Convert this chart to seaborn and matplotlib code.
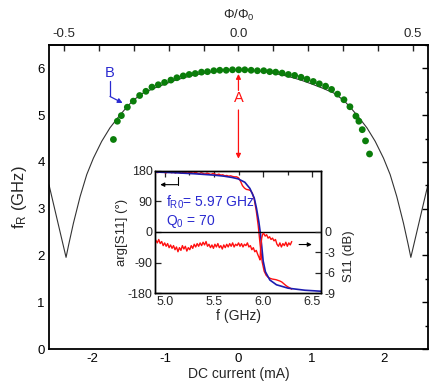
import numpy as np
import pandas as pd
import matplotlib
matplotlib.use("Agg")
import matplotlib.pyplot as plt
import seaborn as sns
from matplotlib.ticker import MultipleLocator

sns.set_theme(style="white")
plt.rcParams['font.family'] = ['Liberation Sans', 'DejaVu Sans']
plt.rcParams['mathtext.fontset'] = 'custom'
plt.rcParams['mathtext.rm'] = 'Liberation Sans'
plt.rcParams['mathtext.it'] = 'Liberation Sans'
plt.rcParams['axes.unicode_minus'] = False

# ---------------- main panel data ----------------
dots_I = [-1.716, -1.662, -1.607, -1.525, -1.443, -1.356, -1.270, -1.187, -1.100, -1.014,
          -0.927, -0.845, -0.758, -0.676, -0.593, -0.507, -0.425, -0.338, -0.256, -0.168,
          -0.082, 0.004, 0.087, 0.174, 0.260, 0.347, 0.429, 0.511, 0.599, 0.685,
          0.771, 0.859, 0.941, 1.027, 1.110, 1.196, 1.278, 1.360, 1.448, 1.530,
          1.612, 1.653, 1.699, 1.744, 1.799]
dots_f = [4.48, 4.87, 4.99, 5.17, 5.30, 5.42, 5.51, 5.60, 5.65, 5.70,
          5.75, 5.80, 5.84, 5.87, 5.89, 5.92, 5.93, 5.95, 5.96, 5.96,
          5.97, 5.97, 5.97, 5.96, 5.95, 5.95, 5.93, 5.92, 5.90, 5.87,
          5.85, 5.81, 5.77, 5.72, 5.67, 5.62, 5.55, 5.45, 5.33, 5.18,
          4.98, 4.87, 4.69, 4.45, 4.17]

fit_I = [-2.60, -2.366, -2.33, -2.265, -2.173, -2.082, -1.991, -1.877, -1.763, -1.648,
         -1.534, -1.443, -1.306, -1.15, -1.0, -0.875, -0.75, -0.625, -0.5, -0.375,
         -0.25, -0.125, 0.0, 0.125, 0.25, 0.375, 0.5, 0.625, 0.75, 0.875,
         1.0, 1.15, 1.306, 1.443, 1.534, 1.648, 1.763, 1.877, 1.991, 2.082,
         2.173, 2.265, 2.33, 2.366, 2.60]
fit_f = [3.51, 1.96, 2.23, 2.69, 3.26, 3.73, 4.08, 4.44, 4.73, 4.96,
         5.17, 5.32, 5.475, 5.58, 5.67, 5.74, 5.80, 5.85, 5.89, 5.925,
         5.95, 5.965, 5.97, 5.965, 5.95, 5.925, 5.89, 5.85, 5.80, 5.74,
         5.67, 5.58, 5.475, 5.32, 5.17, 4.96, 4.73, 4.44, 4.08, 3.73,
         3.26, 2.69, 2.23, 1.96, 3.51]

x_ticks = [-2, -1, 0, 1, 2]
y_ticks = [0, 1, 2, 3, 4, 5, 6]
flux_ticks = [-0.5, 0.0, 0.5]
mA_per_flux = 4.78

# ---------------- inset data ----------------
ph_f = [4.91, 4.93, 4.95, 4.97, 4.99, 5.01, 5.03, 5.05, 5.07, 5.09, 5.11, 5.13, 5.15, 5.17,
        5.19, 5.21, 5.23, 5.25, 5.27, 5.29, 5.31, 5.33, 5.35, 5.37, 5.39, 5.41, 5.43, 5.45,
        5.47, 5.49, 5.51, 5.53, 5.55, 5.57, 5.59, 5.61, 5.63, 5.65, 5.67, 5.69, 5.71, 5.73,
        5.75, 5.77, 5.79, 5.81, 5.83, 5.85, 5.87, 5.89, 5.91, 5.93, 5.95, 5.97, 5.99, 6.01,
        6.03, 6.05, 6.07, 6.09, 6.11, 6.13, 6.15, 6.17, 6.19, 6.21, 6.23, 6.25, 6.27, 6.29]
ph_deg = [177, 174, 178, 175, 177, 173, 176, 178, 174, 176, 173, 177, 175, 172,
          176, 174, 177, 173, 175, 172, 176, 173, 171, 174, 172, 170, 173, 171,
          169, 172, 170, 168, 170, 167, 168, 165, 166, 164, 165, 163, 162, 162,
          159, 149, 136, 129, 125, 124, 122, 114, 95, 62, 18, -40, -88, -115,
          -127, -133, -136, -138, -139, -140, -142, -144, -147, -152, -157, -161, -164, -168]

fitph_f = [4.91, 5.10, 5.30, 5.50, 5.60, 5.686, 5.746, 5.814, 5.865, 5.909, 5.932,
           5.956, 5.970, 5.983, 6.000, 6.023, 6.068, 6.135, 6.254, 6.423, 6.59]
fitph_deg = [176, 174, 171, 167, 164, 160, 156, 146, 128, 100, 70,
             30, 0, -35, -85, -117, -141, -155, -165, -171, -174]

s11_f = [4.910, 4.925, 4.940, 4.955, 4.970, 4.985, 5.000, 5.015, 5.030, 5.045, 5.060, 5.075,
         5.090, 5.105, 5.120, 5.135, 5.150, 5.165, 5.180, 5.195, 5.210, 5.225, 5.240, 5.255,
         5.270, 5.285, 5.300, 5.315, 5.330, 5.345, 5.360, 5.375, 5.390, 5.405, 5.420, 5.435,
         5.450, 5.465, 5.480, 5.495, 5.510, 5.525, 5.540, 5.555, 5.570, 5.585, 5.600, 5.615,
         5.630, 5.645, 5.660, 5.675, 5.690, 5.705, 5.720, 5.735, 5.750, 5.765, 5.780, 5.795,
         5.810, 5.825, 5.840, 5.855, 5.870, 5.885, 5.900, 5.915, 5.930, 5.945, 5.960, 5.968,
         5.975, 5.985, 5.995, 6.005, 6.020, 6.035, 6.050, 6.065, 6.080, 6.095, 6.110, 6.125,
         6.140, 6.155, 6.170, 6.185, 6.200, 6.215, 6.230, 6.245, 6.260, 6.275, 6.290]
s11_db = [-1.2, -1.6, -1.1, -1.7, -1.4, -2.0, -1.6, -2.1, -1.7, -2.3, -1.9, -2.4,
          -2.0, -2.6, -2.2, -2.9, -2.3, -2.7, -2.0, -2.5, -2.1, -2.8, -2.3, -2.6,
          -2.0, -2.4, -1.8, -2.2, -1.7, -2.1, -1.6, -2.0, -1.5, -1.9, -1.4, -2.1,
          -1.8, -2.3, -1.9, -2.4, -1.8, -2.2, -1.7, -2.3, -2.0, -2.5, -1.9, -2.3,
          -1.8, -2.2, -1.7, -2.1, -1.6, -2.2, -1.8, -2.0, -1.6, -2.1, -1.7, -2.2,
          -1.8, -2.0, -1.6, -2.2, -2.0, -2.6, -2.3, -2.9, -2.7, -3.3, -3.8, -4.1,
          -2.2, -0.9, -0.3, -0.2, -0.6, -0.4, -0.9, -0.7, -1.1, -0.9, -1.3, -1.1,
          -1.8, -2.1, -1.6, -2.2, -1.7, -2.0, -1.5, -2.1, -1.6, -1.9, -1.4]

inset_xticks = [5.0, 5.5, 6.0, 6.5]
inset_yticks = [-180, -90, 0, 90, 180]
inset_y2ticks = [0, -3, -6, -9]

GREEN = "#0a7d0a"
RED = "#ff1010"
BLUE = "#1c1cb0"
TXTBLUE = "#2a2ad0"

fig = plt.figure(figsize=(4.36, 3.84), dpi=100)
ax = fig.add_axes([0.1124, 0.0911, 0.869, 0.7917])

sns.lineplot(x=fit_I, y=fit_f, ax=ax, color="#333333", lw=0.8, sort=False, estimator=None)
sns.scatterplot(x=dots_I, y=dots_f, ax=ax, color=GREEN, s=24, edgecolor="none", zorder=3)

ax.set_xlim(-2.6, 2.6)
ax.set_ylim(0, 6.5)
ax.set_xticks(x_ticks)
ax.set_yticks(y_ticks)
ax.xaxis.set_minor_locator(MultipleLocator(0.5))
ax.yaxis.set_minor_locator(MultipleLocator(0.5))
ax.tick_params(which="both", direction="in", right=True, top=False, labelsize=9.5,
               width=1.0, color="black", labelcolor="black")
ax.tick_params(which="major", length=4.5, pad=3)
ax.tick_params(which="minor", length=2.5)
for s in ax.spines.values():
    s.set_color("black"); s.set_linewidth(1.3)
ax.set_xlabel("DC current (mA)", fontsize=10, labelpad=1)
ax.set_ylabel("f$_\\mathregular{R}$ (GHz)", fontsize=12, labelpad=6)

sec = ax.secondary_xaxis("top", functions=(lambda x: np.asarray(x) / mA_per_flux,
                                           lambda p: np.asarray(p) * mA_per_flux))
sec.set_xticks(flux_ticks)
sec.set_xticklabels(["-0.5", "0.0", "0.5"])
sec.xaxis.set_minor_locator(MultipleLocator(0.1))
sec.tick_params(which="both", direction="in", labelsize=9.5, width=1.0)
sec.tick_params(which="major", length=4.5)
sec.tick_params(which="minor", length=4.5)
sec.set_xlabel("Φ/Φ$_\\mathregular{0}$", fontsize=9.5, labelpad=7)

# annotations in main panel
ax.annotate("", xy=(0, 5.94), xytext=(0, 5.47),
            arrowprops=dict(arrowstyle="-|>", color=RED, lw=0.9, mutation_scale=7))
ax.text(0, 5.37, "A", color=RED, fontsize=10.5, ha="center", va="center")
ax.annotate("", xy=(0, 4.01), xytext=(0, 5.17),
            arrowprops=dict(arrowstyle="-|>", color=RED, lw=0.9, mutation_scale=7))
ax.text(-1.763, 5.91, "B", color=TXTBLUE, fontsize=10.5, ha="center", va="center")
ax.plot([-1.763, -1.763], [5.74, 5.40], color=TXTBLUE, lw=0.9)
ax.annotate("", xy=(-1.59, 5.26), xytext=(-1.763, 5.40),
            arrowprops=dict(arrowstyle="-|>", color=TXTBLUE, lw=0.9, mutation_scale=7,
                            shrinkA=0, shrinkB=0))

# ---------------- inset ----------------
ins = fig.add_axes([0.3562, 0.2362, 0.3807, 0.3193])
ins.set_facecolor("white")
sns.lineplot(x=ph_f, y=ph_deg, ax=ins, color=RED, lw=1.0, sort=False, estimator=None)
sns.lineplot(x=fitph_f, y=fitph_deg, ax=ins, color=BLUE, lw=1.2, sort=False, estimator=None)
ins.axhline(0, color="black", lw=1.0)
ins.set_xlim(4.905, 6.59)
ins.set_ylim(-180, 180)
ins.set_xticks(inset_xticks)
ins.set_xticklabels(["5.0", "5.5", "6.0", "6.5"])
ins.set_yticks(inset_yticks)
ins.xaxis.set_minor_locator(MultipleLocator(0.25))
ins.tick_params(which="both", direction="in", top=True, labelsize=9, width=0.9, pad=2)
ins.tick_params(which="major", length=4)
ins.tick_params(which="minor", length=3)
ins.set_xlabel("f (GHz)", fontsize=10, labelpad=1)
ins.set_ylabel("arg[S11] (°)", fontsize=9.5, labelpad=0)
for s in ins.spines.values():
    s.set_color("black"); s.set_linewidth(1.0)

ins2 = ins.twinx()
sns.lineplot(x=s11_f, y=s11_db, ax=ins2, color=RED, lw=1.0, sort=False, estimator=None)
ins2.set_ylim(-9, 9)
ins2.set_yticks(inset_y2ticks)
ins2.set_yticklabels(["0", "-3", "-6", "-9"])
ins2.tick_params(which="both", direction="in", labelsize=9, width=0.9, length=4, pad=2)
ins2.set_ylabel("S11 (dB)", fontsize=9.5, labelpad=2, rotation=90)
ins2.yaxis.set_label_coords(1.13, 0.3)
ins2.grid(False)
for s in ins2.spines.values():
    s.set_color("black"); s.set_linewidth(1.0)

ins.text(5.01, 88, "f$_\\mathregular{R0}$= 5.97 GHz", color=TXTBLUE, fontsize=10, va="center")
ins.text(5.01, 32, "Q$_\\mathregular{0}$ = 70", color=TXTBLUE, fontsize=10, va="center")

# arrows indicating axes in inset
ins.plot([5.131, 5.131], [161, 139], color="black", lw=0.8)
ins.annotate("", xy=(4.955, 139), xytext=(5.131, 139),
             arrowprops=dict(arrowstyle="-|>", color="black", lw=0.8, mutation_scale=6,
                             shrinkA=0, shrinkB=0))
ins2.annotate("", xy=(6.494, -1.84), xytext=(6.365, -1.84),
              arrowprops=dict(arrowstyle="-|>", color="black", lw=0.8, mutation_scale=6,
                              shrinkA=0, shrinkB=0))

fig.savefig("out.png", dpi=100)
